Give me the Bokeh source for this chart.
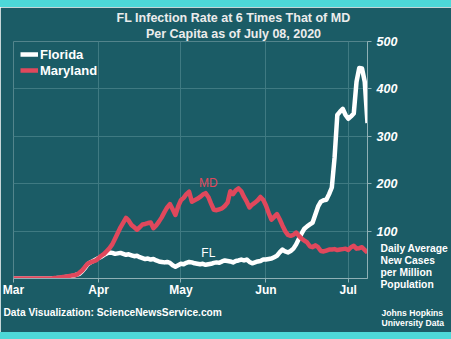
import pandas as pd
from bokeh.plotting import figure
from bokeh.models import (FixedTicker, Label, Legend, LegendItem, Range1d, Div,
                          DatetimeTickFormatter)
from bokeh.layouts import column
from bokeh.core.properties import value
from bokeh.embed import file_html
from bokeh.resources import INLINE

dates = pd.date_range("2020-03-01", "2020-07-08", freq="D")

florida = [
    0, 0, 0, 0, 0, 0, 0, 0, 0, 0, 0, 0, 0, 0, 0,
    0, 1, 1, 2, 3, 4, 5, 6, 8, 10, 15, 22, 30, 34, 37,
    40, 43, 46, 50, 53, 55, 54, 52, 53, 54, 52, 50, 51, 49, 47,
    48, 45, 43, 41, 42, 40, 41, 38, 36, 35, 34, 35, 33, 28, 25,
    28, 31, 30, 33, 35, 34, 32, 31, 30, 31, 29, 30, 31, 33, 34,
    33, 36, 38, 37, 36, 34, 37, 38, 40, 38, 40, 35, 32, 34, 36,
    37, 40, 40, 41, 42, 45, 48, 55, 61, 57, 55, 58, 63, 72, 84,
    95, 105, 110, 114, 118, 135, 152, 162, 165, 166, 178, 192, 255, 345, 352,
    358, 345, 337, 342, 348, 415, 444, 443, 415, 328,
]

maryland = [
    0, 0, 0, 0, 0, 0, 0, 0, 0, 0, 0, 0, 0, 0, 0,
    1, 1, 2, 3, 4, 5, 6, 7, 8, 12, 17, 24, 31, 34, 36,
    38, 43, 48, 52, 58, 64, 72, 84, 96, 108, 118, 128, 122, 113, 108,
    103, 108, 114, 115, 117, 118, 106, 112, 120, 129, 140, 150, 157, 146, 134,
    152, 165, 170, 178, 183, 162, 165, 168, 172, 177, 180, 172, 158, 145, 144,
    146, 148, 153, 160, 184, 178, 186, 190, 184, 172, 162, 150, 156, 160, 165,
    172, 166, 154, 138, 124, 130, 136, 125, 112, 100, 92, 90, 92, 97, 90,
    84, 80, 76, 68, 66, 70, 66, 58, 57, 59, 61, 61, 62, 60, 61,
    62, 63, 60, 66, 69, 63, 64, 66, 60, 55,
]

y_ticks = [100, 200, 300, 400, 500]
month_starts = ["2020-03-01", "2020-04-01", "2020-05-01", "2020-06-01", "2020-07-01"]
unit_lines = ["Daily Average", "New Cases", "per Million", "Population"]

BG = "#1b5c66"
BAND = "#4dd8d8"
RED = "#e0485c"
GRID = "#3f7a82"
AXIS = "#8fb0b5"
FONT = "Liberation Sans"
TOP = 7  # height of the top band

month_ms = [pd.Timestamp(m).value / 1e6 for m in month_starts]

p = figure(width=451, height=325, x_axis_type="datetime", y_axis_location="right",
           output_backend="svg", toolbar_location=None,
           x_range=Range1d(pd.Timestamp("2020-03-01"), pd.Timestamp("2020-07-08")),
           y_range=Range1d(0, 500),
           min_border_left=13, min_border_right=83, min_border_top=34, min_border_bottom=54,
           background_fill_color=BG, border_fill_color=BG, outline_line_color=None)

p.xgrid.ticker = FixedTicker(ticks=month_ms)
p.ygrid.ticker = FixedTicker(ticks=y_ticks)
p.xgrid.grid_line_color = GRID
p.ygrid.grid_line_color = GRID

xa = p.xaxis[0]
xa.ticker = FixedTicker(ticks=month_ms)
xa.formatter = DatetimeTickFormatter(days="%b", months="%b")
xa.axis_line_color = AXIS
xa.major_tick_line_color = AXIS
xa.major_tick_out = 4
xa.major_tick_in = 0
xa.minor_tick_line_color = None
xa.major_label_text_color = "white"
xa.major_label_text_font = FONT
xa.major_label_text_font_style = "bold"
xa.major_label_text_font_size = "12px"
xa.major_label_standoff = 0

ya = p.yaxis[0]
ya.ticker = FixedTicker(ticks=y_ticks)
ya.axis_line_color = AXIS
ya.major_tick_line_color = AXIS
ya.major_tick_out = 4
ya.major_tick_in = 0
ya.minor_tick_line_color = None
ya.major_label_text_color = "white"
ya.major_label_text_font = FONT
ya.major_label_text_font_style = "bold italic"
ya.major_label_text_font_size = "12.5px"
ya.major_label_standoff = 5
ya.axis_label = "\n".join(unit_lines) + "\n \n "
ya.axis_label_orientation = "horizontal"
ya.axis_label_align = "start"
ya.axis_label_standoff_mode = "axis"
ya.axis_label_standoff = 13
ya.axis_label_text_color = "white"
ya.axis_label_text_font = FONT
ya.axis_label_text_font_style = "bold"
ya.axis_label_text_font_size = "10.3px"
ya.axis_label_text_line_height = 1.08

r_fl = p.line(dates, florida, line_color="white", line_width=4.5, line_join="round")
r_md = p.line(dates, maryland, line_color=RED, line_width=4.5, line_join="round")

legend = Legend(items=[LegendItem(label="Florida", renderers=[r_fl]),
                       LegendItem(label="Maryland", renderers=[r_md])],
                location=(7, 200), padding=0, margin=0, spacing=0,
                glyph_width=18, glyph_height=16, label_height=16, label_standoff=2,
                label_text_color="white", label_text_font=FONT,
                label_text_font_style="bold", label_text_font_size="13px",
                background_fill_alpha=0, border_line_alpha=0)
p.add_layout(legend)

p.text(x=[pd.Timestamp("2020-05-11")], y=[201], text=["MD"], text_color=RED,
       text_font=value(FONT), text_font_size="12px", text_align="center",
       text_baseline="middle")
p.text(x=[pd.Timestamp("2020-05-11")], y=[53], text=["FL"], text_color="white",
       text_font=value(FONT), text_font_size="12px", text_align="center",
       text_baseline="middle")

def add_label(side, x, y, txt, size, align="left", color="white", style="bold", lh=1.2):
    # x, y are window pixels; canvas y is measured from the top of the figure
    p.add_layout(Label(x=x, y=y - TOP, x_units="canvas", y_units="canvas", text=txt,
                       text_color=color, text_font=FONT, text_font_style=style,
                       text_font_size=size, text_align=align, text_baseline="middle",
                       text_line_height=lh),
                 side)

add_label("above", 233, 17, "FL Infection Rate at 6 Times That of MD", "12.5px", "center", "#ececec")
add_label("above", 233, 33, "Per Capita as of July 08, 2020", "12.5px", "center", "#ececec")
add_label("below", 3, 312.3, "Data Visualization: ScienceNewsService.com", "10.2px")
add_label("below", 381, 317.5, "Johns Hopkins\nUniversity Data", "8.6px", lh=1.08)

top = Div(width=451, height=TOP, margin=0, styles={"background-color": BAND})
bot = Div(width=451, height=7, margin=0, styles={"background-color": BAND})
layout = column(top, p, bot, spacing=0)

open("out.html", "w").write(file_html(layout, INLINE))
